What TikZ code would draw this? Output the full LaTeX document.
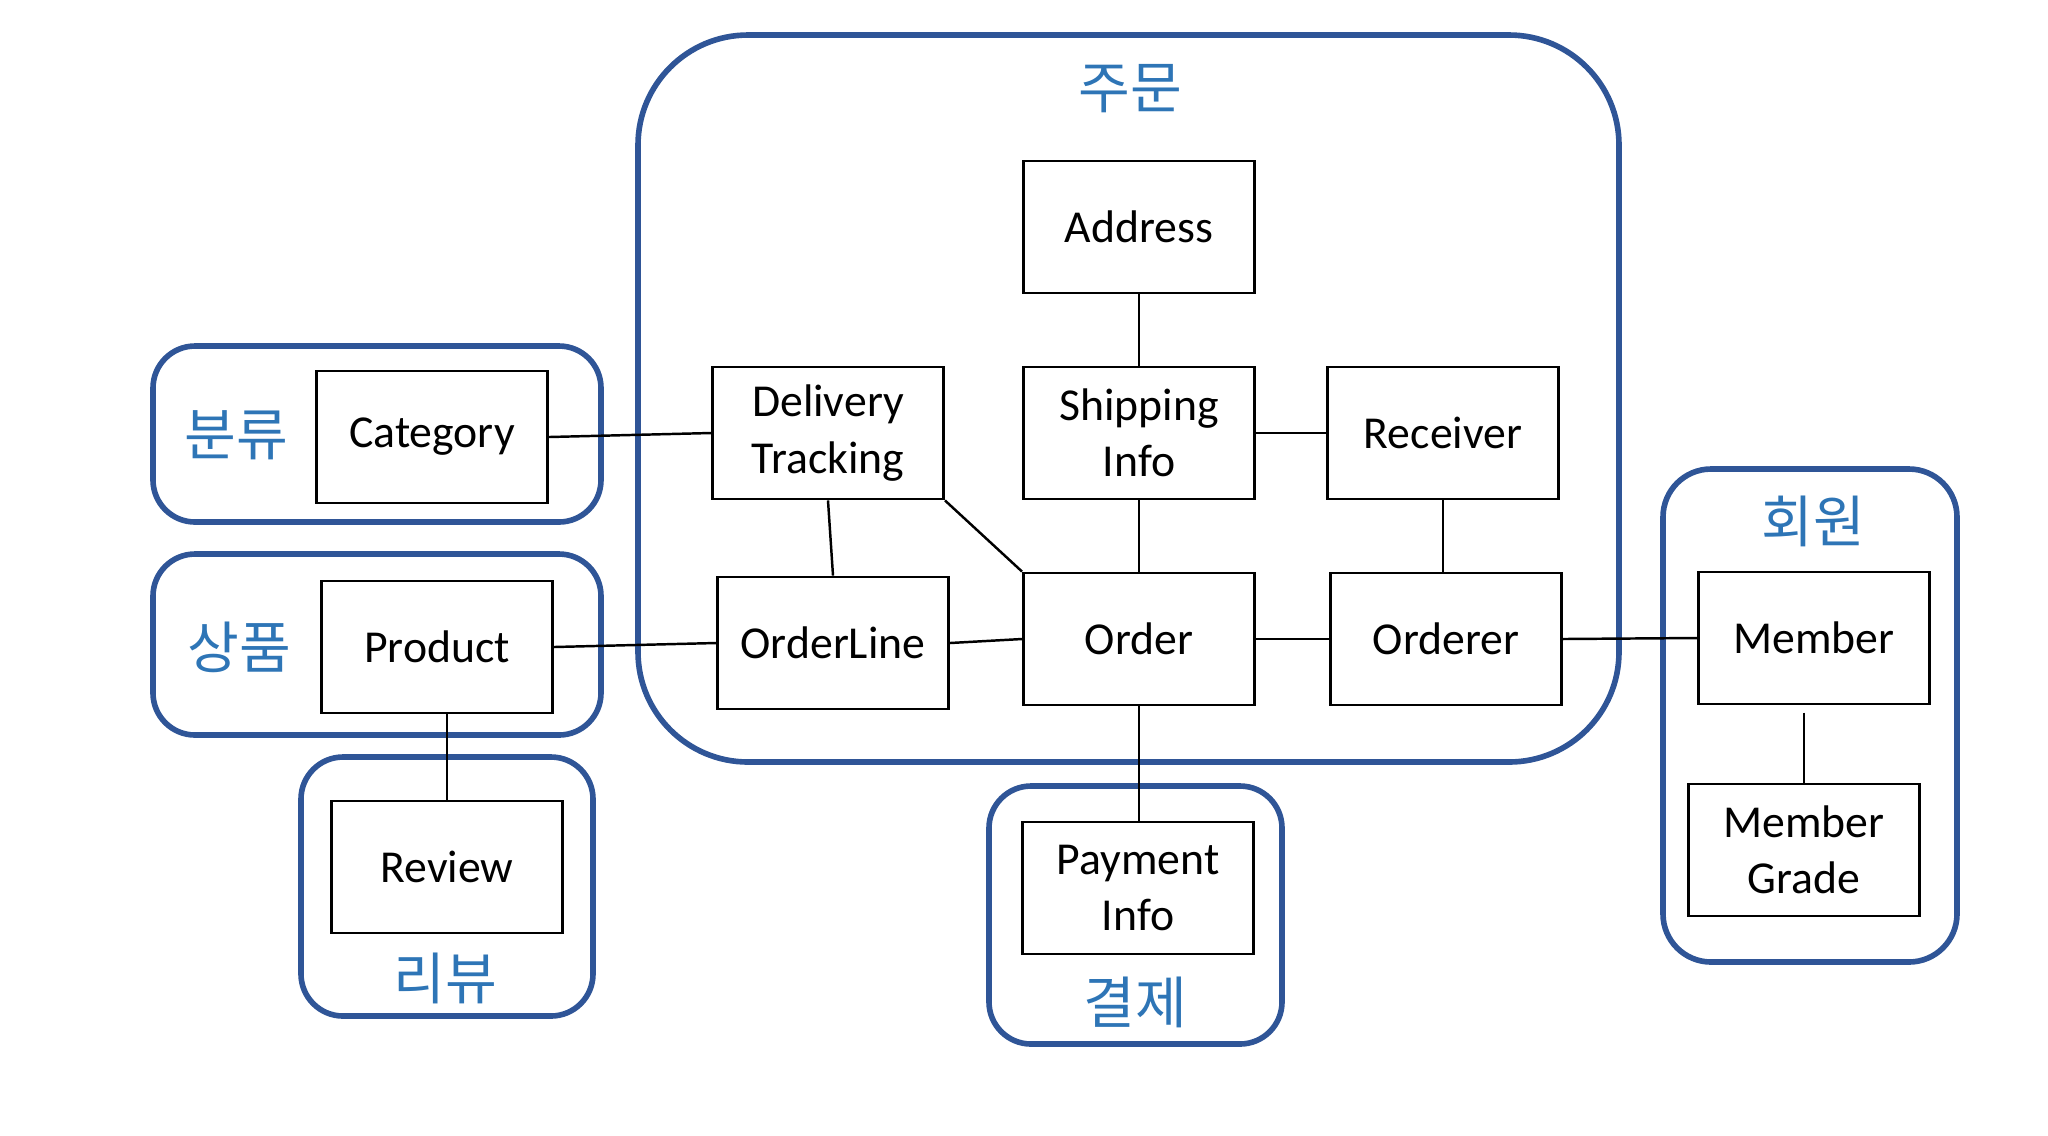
\documentclass[tikz,border=0pt]{standalone}
\usepackage{fontspec}
\setmainfont{Carlito}
\newfontfamily\kofont{Noto Sans CJK KR}
\usepackage{xcolor}
\usetikzlibrary{positioning}
\definecolor{grpblue}{HTML}{2F5597}
\definecolor{lblblue}{HTML}{2E75B6}

\begin{document}
\begin{tikzpicture}[x=0.01cm, y=-0.01cm,
  entity/.style={draw, line width=0.8pt, minimum width=2.31cm, minimum height=1.32cm,
    align=center, inner sep=0pt, font=\fontsize{13}{16}\selectfont},
  group/.style={draw=grpblue, line width=1.6pt, rounded corners=0.42cm},
  glabel/.style={text=lblblue, inner sep=0pt, font=\kofont\fontsize{16}{18}\selectfont},
  link/.style={line width=0.7pt}]
\useasboundingbox (0,0) rectangle (2048,1135);

% bounded contexts
\draw[group, rounded corners=1.1cm] (638,35) rectangle (1619,762);
\draw[group] (153,346) rectangle (601,522);
\draw[group] (153,554) rectangle (601,735);
\draw[group] (301,757) rectangle (593,1016);
\draw[group] (989,786) rectangle (1282,1044);
\draw[group, rounded corners=0.48cm] (1663,469) rectangle (1957,962);

\node[glabel] (ordLbl) at (1130,89) {주문};
\node[glabel] (catLbl) at (236,435) {분류};
\node[glabel] (prdLbl) at (239,647) {상품};
\node[glabel] (revLbl) at (445,978) {리뷰};
\node[glabel] (payLbl) at (1135,1002) {결제};
\node[glabel] (memLbl) at (1813,521) {회원};

% order context
\node[entity] (address) at (1139,227) {Address};
\node[entity] (delivery) at (828,433) {Delivery\\Tracking};
\node[entity] (shipping) at (1139,433) {Shipping\\Info};
\node[entity] (receiver) at (1443,433) {Receiver};
\node[entity] (orderline) at (833,643) {OrderLine};
\node[entity] (order) at (1139,639) {Order};
\node[entity] (orderer) at (1446,639) {Orderer};

% other contexts
\node[entity] (category) at (432,437) {Category};
\node[entity] (product) at (437,647) {Product};
\node[entity] (review) at (447,867) {Review};
\node[entity] (payment) at (1138,888) {Payment\\Info};
\node[entity] (member) at (1814,638) {Member};
\node[entity] (grade) at (1804,850) {Member\\Grade};

% links
\draw[link] (category.east) -- (delivery.west);
\draw[link] (product.east) -- (orderline.west);
\draw[link] (review.north |- product.south) -- (review.north);
\draw[link] (address) -- (shipping);
\draw[link] (shipping) -- (order);
\draw[link] (delivery.south) -- (orderline.north);
\draw[link] (delivery.south east) -- (order.north west);
\draw[link] (shipping) -- (receiver);
\draw[link] (receiver.south) -- (receiver.south |- orderer.north);
\draw[link] (orderline.east) -- (order.west);
\draw[link] (order) -- (orderer);
\draw[link] (orderer.east) -- (member.west);
\draw[link, shorten <=2pt] (grade.north |- member.south) -- (grade.north);
\draw[link] (order.south) -- (payment.north -| order.south);
\end{tikzpicture}
\end{document}
